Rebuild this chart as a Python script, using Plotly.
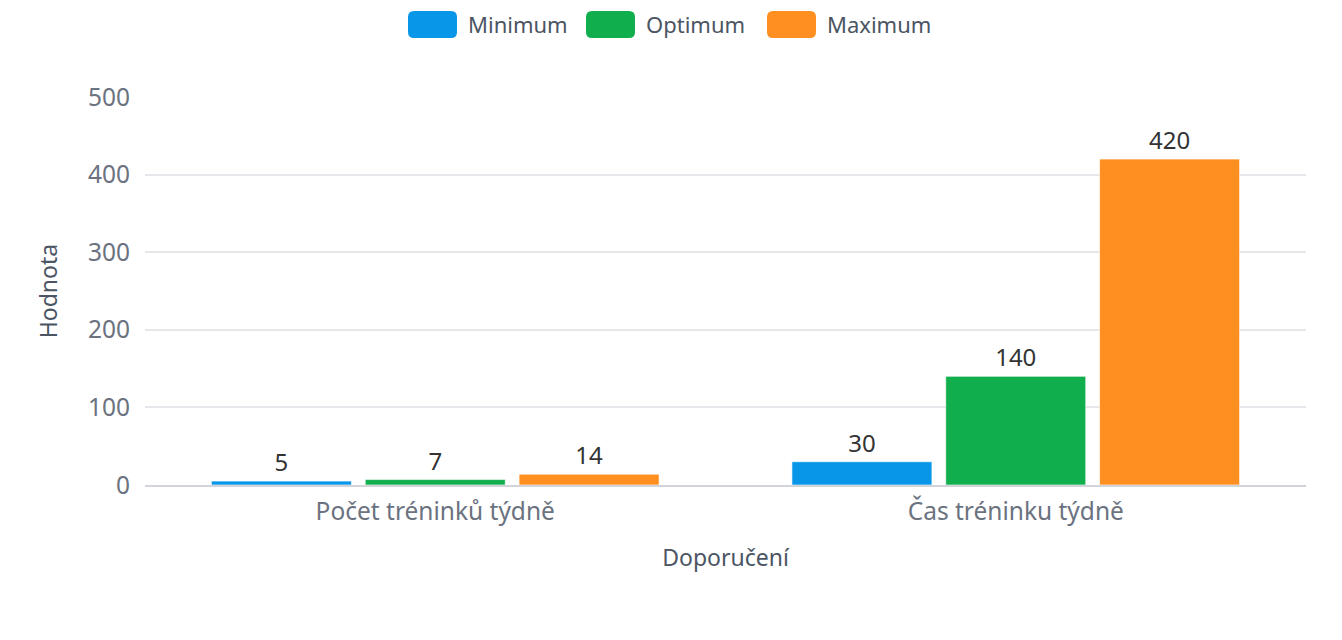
import plotly.graph_objects as go

categories = ["Počet tréninků týdně", "Čas tréninku týdně"]
series_names = ["Minimum", "Optimum", "Maximum"]
minimum = [5, 30]
optimum = [7, 140]
maximum = [14, 420]
series_values = [minimum, optimum, maximum]
colors = ["#0796E8", "#10AE4C", "#FF8F21"]
y_ticks = [0, 100, 200, 300, 400, 500]

FONT = "Noto Sans"
GRAY = "#6B7280"
W, H = 1342, 640
ML, MR, MT, MB = 145, 36, 97, 155
PW, PH = W - ML - MR, H - MT - MB

fig = go.Figure()
for name, vals, col in zip(series_names, series_values, colors):
    fig.add_trace(go.Bar(
        name=name, x=categories, y=vals,
        marker=dict(color=col, line=dict(color="rgba(255,255,255,0.6)", width=1)),
        text=[str(v) for v in vals], textposition="outside",
        textfont=dict(family=FONT, size=24, color="#333333"),
        cliponaxis=False, showlegend=False,
    ))

# legend drawn as rounded swatches + text (pixel layout -> paper coords)
def px(x):
    return (x - ML) / PW

def py(y):
    return (H - MB - y) / PH

def rrect(x0, y0, x1, y1, r):
    pts = [
        f"M{px(x0 + r)},{py(y0)}", f"L{px(x1 - r)},{py(y0)}",
        f"Q{px(x1)},{py(y0)} {px(x1)},{py(y0 + r)}", f"L{px(x1)},{py(y1 - r)}",
        f"Q{px(x1)},{py(y1)} {px(x1 - r)},{py(y1)}", f"L{px(x0 + r)},{py(y1)}",
        f"Q{px(x0)},{py(y1)} {px(x0)},{py(y1 - r)}", f"L{px(x0)},{py(y0 + r)}",
        f"Q{px(x0)},{py(y0)} {px(x0 + r)},{py(y0)}", "Z",
    ]
    return " ".join(pts)

legend_x = [408, 586, 767]
shapes = []
annotations = []
for lx, name, col in zip(legend_x, series_names, colors):
    shapes.append(dict(type="path", xref="paper", yref="paper",
                       path=rrect(lx, 11, lx + 49, 38, 6),
                       fillcolor=col, line=dict(width=0)))
    annotations.append(dict(text=name, xref="paper", yref="paper",
                            x=px(lx + 58), y=py(24), xanchor="left", yanchor="middle",
                            showarrow=False,
                            font=dict(family=FONT, size=22, color="#4B5563")))

fig.update_layout(
    width=W, height=H,
    margin=dict(l=ML, r=MR, t=MT, b=MB),
    paper_bgcolor="white", plot_bgcolor="white",
    barmode="group", bargap=0.205, bargroupgap=0.09,
    font=dict(family=FONT, color=GRAY),
    shapes=shapes, annotations=annotations,
    xaxis=dict(
        title=dict(text="Doporučení", font=dict(family=FONT, size=23, color="#4B5563"), standoff=24),
        tickfont=dict(family=FONT, size=24.5, color=GRAY),
        showline=True, linecolor="#D1D5DB", linewidth=1.5,
        showgrid=False, ticks="", ticklabelstandoff=4,
    ),
    yaxis=dict(
        title=dict(text="Hodnota", font=dict(family=FONT, size=23, color="#4B5563"), standoff=23),
        range=[0, 500], tickvals=y_ticks,
        tickfont=dict(family=FONT, size=24.5, color=GRAY),
        gridcolor="#E5E7EB", gridwidth=1.5, zeroline=False,
        ticklabelstandoff=14,
    ),
)

fig.write_html("out.html")
